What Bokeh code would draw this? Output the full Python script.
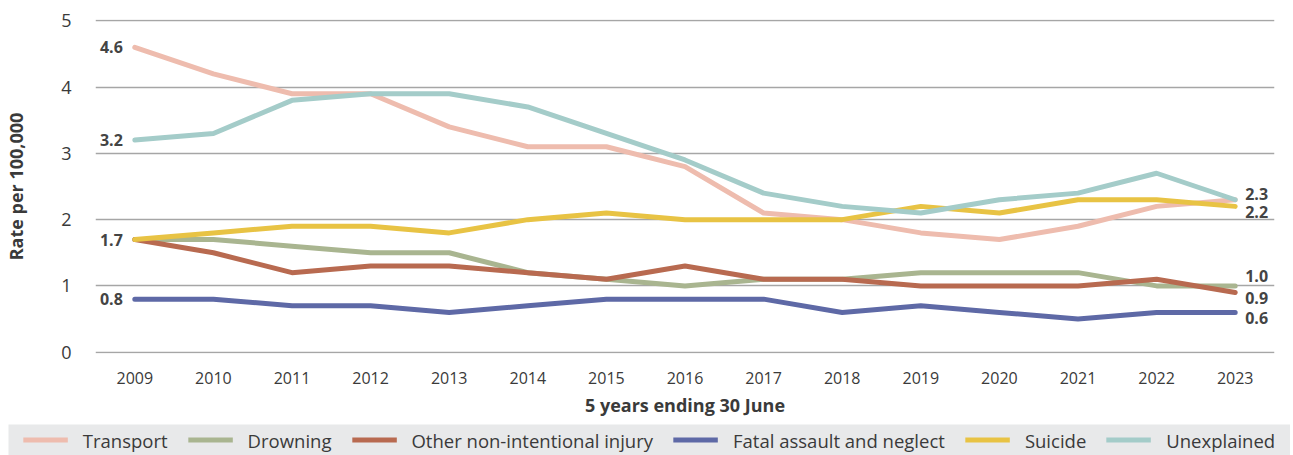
from bokeh.plotting import figure
from bokeh.layouts import column, row
from bokeh.models import FactorRange, Range1d, Legend, LegendItem, ColumnDataSource, FixedTicker
from bokeh.core.properties import value
from bokeh.embed import file_html
from bokeh.resources import INLINE

years = ["2009", "2010", "2011", "2012", "2013", "2014", "2015", "2016",
         "2017", "2018", "2019", "2020", "2021", "2022", "2023"]
series_names = ["Transport", "Drowning", "Other non-intentional injury",
                "Fatal assault and neglect", "Suicide", "Unexplained"]
transport = [4.6, 4.2, 3.9, 3.9, 3.4, 3.1, 3.1, 2.8, 2.1, 2.0, 1.8, 1.7, 1.9, 2.2, 2.3]
drowning = [1.7, 1.7, 1.6, 1.5, 1.5, 1.2, 1.1, 1.0, 1.1, 1.1, 1.2, 1.2, 1.2, 1.0, 1.0]
other_injury = [1.7, 1.5, 1.2, 1.3, 1.3, 1.2, 1.1, 1.3, 1.1, 1.1, 1.0, 1.0, 1.0, 1.1, 0.9]
fatal_assault = [0.8, 0.8, 0.7, 0.7, 0.6, 0.7, 0.8, 0.8, 0.8, 0.6, 0.7, 0.6, 0.5, 0.6, 0.6]
suicide = [1.7, 1.8, 1.9, 1.9, 1.8, 2.0, 2.1, 2.0, 2.0, 2.0, 2.2, 2.1, 2.3, 2.3, 2.2]
unexplained = [3.2, 3.3, 3.8, 3.9, 3.9, 3.7, 3.3, 2.9, 2.4, 2.2, 2.1, 2.3, 2.4, 2.7, 2.3]
y_ticks = [0, 1, 2, 3, 4, 5]

series_values = [transport, drowning, other_injury, fatal_assault, suicide, unexplained]
colors = ["#EEBCAE", "#A9B590", "#B86A50", "#5E69A6", "#E8C344", "#A4CCC9"]

FONT = "Open Sans"
TEXT = "#3a3a3a"
BAND = "#e8e9ea"

p = figure(x_range=FactorRange(*years), y_range=Range1d(-0.02, 5.02),
           frame_width=1179, frame_height=334,
           min_border_left=95, min_border_right=10, min_border_top=19, min_border_bottom=71,
           output_backend="svg", toolbar_location=None, outline_line_color=None,
           background_fill_color="white")

for name, vals, col in zip(series_names, series_values, colors):
    p.line(years, vals, line_color=col, line_width=5, line_join="round", line_cap="round")

start_vals = [transport[0], unexplained[0], suicide[0], fatal_assault[0]]
start_labels = ColumnDataSource(dict(
    x=[years[0]] * 4,
    y=start_vals,
    t=[f"{v:.1f}" for v in start_vals],
))
p.text(x="x", y="y", text="t", source=start_labels, x_offset=-12,
       text_align="right", text_baseline="middle", text_font=value(FONT),
       text_font_size="16px", text_font_style="bold", text_color="#444444")

end_vals = [unexplained[-1], suicide[-1], drowning[-1], other_injury[-1], fatal_assault[-1]]
end_offsets = [-6, 6, -10, 5, 6]
end_labels = ColumnDataSource(dict(
    x=[years[-1]] * 5,
    y=end_vals,
    t=[f"{v:.1f}" for v in end_vals],
    yo=end_offsets,
))
p.text(x="x", y="y", text="t", source=end_labels, x_offset=10, y_offset="yo",
       text_align="left", text_baseline="middle", text_font=value(FONT),
       text_font_size="16px", text_font_style="bold", text_color="#444444")

p.yaxis.ticker = FixedTicker(ticks=y_ticks)
p.ygrid.ticker = FixedTicker(ticks=y_ticks)
p.ygrid.grid_line_color = "#a6a6a6"
p.ygrid.grid_line_width = 1.5
p.xgrid.grid_line_color = None

p.yaxis.axis_line_color = None
p.yaxis.major_tick_line_color = None
p.yaxis.minor_tick_line_color = None
p.yaxis.major_label_standoff = 18
p.yaxis.major_label_text_font = FONT
p.yaxis.major_label_text_font_size = "18px"
p.yaxis.major_label_text_color = TEXT
p.yaxis.axis_label = "Rate per 100,000"
p.yaxis.axis_label_text_font = FONT
p.yaxis.axis_label_text_font_size = "18px"
p.yaxis.axis_label_text_font_style = "bold"
p.yaxis.axis_label_text_color = TEXT
p.yaxis.axis_label_standoff = 30

p.xaxis.axis_line_color = None
p.xaxis.major_tick_line_color = None
p.xaxis.minor_tick_line_color = None
p.xaxis.major_label_standoff = 12
p.xaxis.major_label_text_font = FONT
p.xaxis.major_label_text_font_size = "16px"
p.xaxis.major_label_text_color = TEXT
p.xaxis.axis_label = "5 years ending 30 June"
p.xaxis.axis_label_text_font = FONT
p.xaxis.axis_label_text_font_size = "18px"
p.xaxis.axis_label_text_font_style = "bold"
p.xaxis.axis_label_text_color = TEXT
p.xaxis.axis_label_standoff = 6

# Legend strip: a small figure whose series lines fall outside its range,
# so that only the legend (with the series colours) shows.
lg = figure(x_range=Range1d(0, 1), y_range=Range1d(100, 101),
            frame_width=1282, frame_height=31,
            min_border_left=0, min_border_right=0, min_border_top=0, min_border_bottom=0,
            x_axis_type=None, y_axis_type=None,
            output_backend="svg", toolbar_location=None, outline_line_color=None,
            background_fill_color=BAND, border_fill_color=BAND)
lg.xgrid.grid_line_color = None
lg.ygrid.grid_line_color = None
leg_renderers = [lg.line(x=list(range(len(years))), y=vals, line_color=col, line_width=5)
                 for vals, col in zip(series_values, colors)]
legend = Legend(items=[LegendItem(label=n, renderers=[r]) for n, r in zip(series_names, leg_renderers)],
                orientation="horizontal", location="center",
                background_fill_alpha=0.0, border_line_color=None,
                label_text_font=FONT, label_text_font_size="18.5px",
                label_text_color=TEXT, glyph_width=45, glyph_height=14,
                label_standoff=15, spacing=20, padding=0, margin=0)
lg.add_layout(legend)

lg_row = row(lg, styles={"margin-left": "8px"})
layout = column(p, lg_row, spacing=0)
open("out.html", "w").write(file_html(layout, INLINE))
